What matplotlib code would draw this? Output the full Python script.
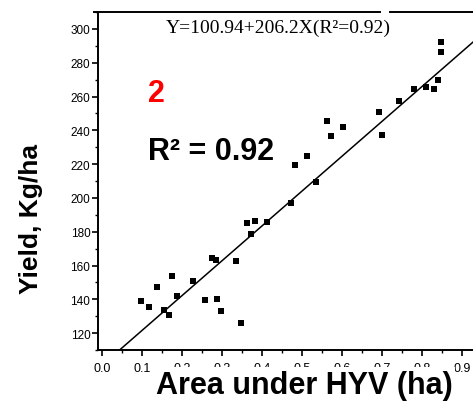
import matplotlib
matplotlib.use("Agg")
import matplotlib.pyplot as plt
import numpy as np
from matplotlib.ticker import MultipleLocator

# area under HYV (ha) and yield (kg/ha)
area = [0.098, 0.117, 0.137, 0.176, 0.156, 0.168, 0.188, 0.227, 0.275, 0.284,
        0.257, 0.287, 0.298, 0.334, 0.347, 0.363, 0.383, 0.413, 0.373, 0.473,
        0.483, 0.513, 0.534, 0.563, 0.573, 0.603, 0.692, 0.700, 0.743, 0.779,
        0.810, 0.830, 0.840, 0.848, 0.848]
yld = [138.7, 135.5, 147.2, 153.6, 133.8, 130.6, 142.2, 150.9, 164.3, 163.3,
       139.3, 140.1, 133.0, 162.7, 125.7, 185.3, 186.1, 185.5, 178.4, 196.9,
       219.7, 224.5, 209.3, 245.7, 236.5, 242.2, 250.8, 237.0, 257.5, 264.4,
       265.6, 264.4, 269.5, 292.5, 286.6]

# fitted line Y = a + bX
intercept = 100.94
slope = 206.2
fit_x = [0.045, 0.96]

yticks = [120, 140, 160, 180, 200, 220, 240, 260, 280, 300]
ytick_labels = ["120", "140", "160", "180", "200", "220", "240", "260", "280", "300"]
xticks = [0.0, 0.1, 0.2, 0.3, 0.4, 0.5, 0.6, 0.7, 0.8, 0.9]
xtick_labels = ["0.0", "0.1", "0.2", "0.3", "0.4", "0.5", "0.6", "0.7", "0.8", "0.9"]

W, H = 473, 402
fig = plt.figure(figsize=(W / 100, H / 100), dpi=100)
# axes runs past the right edge, like the cropped scan
ax = fig.add_axes([98 / W, (H - 351) / H, 384 / W, 338 / H])

ax.scatter(area, yld, marker="s", s=22, color="black", zorder=3, linewidths=0)
fx = np.array(fit_x)
ax.plot(fx, intercept + slope * fx, color="black", lw=1.1)

ax.set_xlim(-0.01, 0.95)
ax.set_ylim(110, 310)

ax.set_yticks(yticks)
ax.set_yticklabels(ytick_labels, family="Liberation Sans", fontsize=8.5)
ax.set_xticks(xticks)
ax.set_xticklabels(xtick_labels, family="Liberation Sans", fontsize=9)
ax.yaxis.set_minor_locator(MultipleLocator(10))
ax.xaxis.set_minor_locator(MultipleLocator(0.05))
ax.tick_params(which="major", direction="out", length=4, width=1.2, pad=1.5)
ax.tick_params(axis="x", which="major", pad=5)
ax.tick_params(which="minor", direction="out", length=2.5, width=1.0)

ax.spines["right"].set_visible(False)
ax.spines["top"].set_visible(False)
for s in ["left", "bottom"]:
    ax.spines[s].set_linewidth(1.4)
# broken top border of the scan
ax.axhline(310, xmin=-0.01, xmax=0.735, color="black", lw=1.4, clip_on=False)
ax.axhline(310, xmin=0.76, xmax=1.0, color="black", lw=1.4, clip_on=False)

ax.text(0.16, 301, "Y=100.94+206.2X(R²=0.92)", family="Liberation Serif",
        fontsize=14, va="center", ha="left")
ax.text(0.115, 262, "2", color="red", fontsize=22, fontweight="bold",
        family="Liberation Sans", va="center", ha="left")
ax.text(0.115, 228, "R² = 0.92", color="black", fontsize=22, fontweight="bold",
        family="Liberation Sans", va="center", ha="left")

fig.text(31 / W, (H - 219) / H, "Yield, Kg/ha", rotation=90, fontsize=19,
         fontweight="bold", family="Liberation Sans", va="center", ha="center")
fig.text(304 / W, (H - 386) / H, "Area under HYV (ha)", fontsize=22,
         fontweight="bold", family="Liberation Sans", va="center", ha="center",
         bbox=dict(facecolor="white", edgecolor="none", pad=2), zorder=5)

fig.savefig("out.png", dpi=100)
